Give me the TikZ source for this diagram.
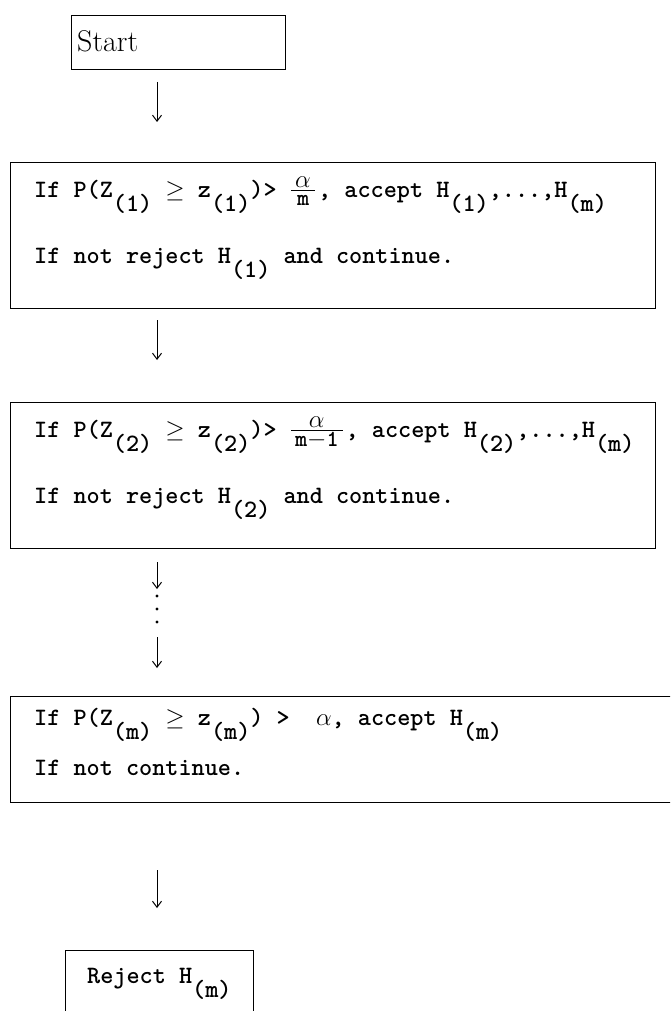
\documentclass[tikz,border=0pt]{standalone}
\usepackage{amsmath}
\usetikzlibrary{arrows.meta}
\newcommand{\lw}[1]{\raisebox{-14pt}{#1}}
\newcommand{\frc}[1]{$\genfrac{}{}{0.9pt}{1}{\mbox{\,\fontsize{25}{25}\selectfont$\alpha$\,}}{\mbox{\,\fontsize{23}{23}\selectfont\ttfamily #1\,}}$\kern2pt}
\begin{document}
\begin{tikzpicture}[x=1pt,y=-1pt,
  box/.style={draw, line width=1.3pt, rectangle, inner sep=0pt, anchor=north west},
  txt/.style={anchor=base west, inner sep=0pt, font=\fontsize{25}{30}\selectfont\ttfamily\bfseries},
  flow/.style={line width=1pt, -{Straight Barb[length=6pt,width=9pt,line width=1pt]}}]
\useasboundingbox (0,0) rectangle (670,1011);
\clip (0,0) rectangle (670,1011);
% boxes
\node[box, minimum width=214pt, minimum height=54pt] (start) at (71,15) {};
\node[box, minimum width=645pt, minimum height=146pt] (b1) at (10,162) {};
\node[box, minimum width=645pt, minimum height=146pt] (b2) at (10,402) {};
\node[box, minimum width=680pt, minimum height=106pt] (b3) at (10,696) {};
\node[box, minimum width=188pt, minimum height=100pt] (rej) at (65,950) {};
% texts
\node[anchor=base west, inner sep=0pt, font=\fontsize{30}{34}\selectfont\rmfamily] (tstart) at (77,52) {Start};
\node[txt] (t11) at (34,197) {If P(Z\lw{(1)} $\geq$ z\lw{(1)})> \frc{m}, accept H\lw{(1)},...,H\lw{(m)}};
\node[txt] (t12) at (34,263) {If not reject H\lw{(1)} and continue.};
\node[txt] (t21) at (34,437) {If P(Z\lw{(2)} $\geq$ z\lw{(2)})> \frc{m$-$1}, accept H\lw{(2)},...,H\lw{(m)}};
\node[txt] (t22) at (34,503) {If not reject H\lw{(2)} and continue.};
\node[txt] (t31) at (34,725) {If P(Z\lw{(m)} $\geq$ z\lw{(m)}) >~~$\alpha$, accept H\lw{(m)}};
\node[txt] (t32) at (34,775) {If not continue.};
\node[txt] (trej) at (87,983) {Reject H\lw{(m)}};
% arrows
\coordinate (a1s) at (157,82);  \coordinate (a1e) at (157,122);
\coordinate (a2s) at (157,320); \coordinate (a2e) at (157,360);
\coordinate (a3s) at (157,562); \coordinate (a3e) at (157,589);
\coordinate (a4s) at (157,637); \coordinate (a4e) at (157,668);
\coordinate (a5s) at (157,870); \coordinate (a5e) at (157,908);
\draw[flow] (a1s) -- (a1e);
\draw[flow] (a2s) -- (a2e);
\draw[flow] (a3s) -- (a3e);
\draw[flow] (a4s) -- (a4e);
\draw[flow] (a5s) -- (a5e);
\foreach \y [count=\i] in {596,609,622} \fill (157,\y) circle (1.6pt) coordinate (dot\i);
\end{tikzpicture}
\end{document}
